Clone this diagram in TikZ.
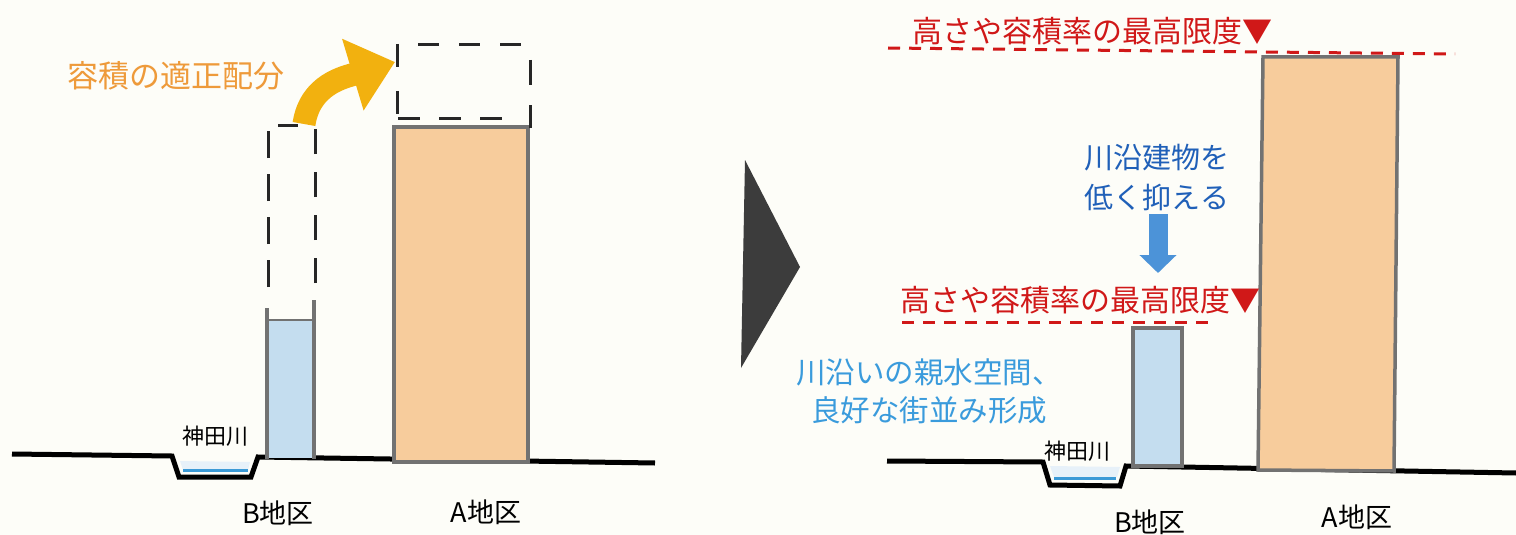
\documentclass[tikz,border=0pt]{standalone}
\usepackage{fontspec}
\newfontfamily\cjk{Noto Sans CJK JP}
\usetikzlibrary{arrows.meta}
\definecolor{bg}{HTML}{FDFDF8}
\definecolor{peach}{HTML}{F7CC9C}
\definecolor{paleblue}{HTML}{C4DDEF}
\definecolor{wallgray}{HTML}{727272}
\definecolor{orangetxt}{HTML}{EE9A3A}
\definecolor{orangearr}{HTML}{F2B10F}
\definecolor{limred}{HTML}{D01818}
\definecolor{darkblue}{HTML}{2060B8}
\definecolor{arrblue}{HTML}{4C93D8}
\definecolor{lightbluetxt}{HTML}{3A9BDC}
\definecolor{waterblue}{HTML}{3C9AD6}
\definecolor{tri}{HTML}{3C3C3C}
\begin{document}
\begin{tikzpicture}[x=1pt,y=-1pt,
  orangelbl/.style={inner sep=0pt, text=orangetxt, font=\cjk\fontsize{31}{31}\selectfont},
  redlbl/.style={inner sep=0pt, text=limred, font=\cjk\fontsize{30}{30}\selectfont},
  bluelbl/.style={inner sep=0pt, text=darkblue, align=center, font=\cjk\fontsize{29}{40}\selectfont},
  ltbluelbl/.style={inner sep=0pt, text=lightbluetxt, align=center, font=\cjk\fontsize{29.5}{38}\selectfont},
  riverlbl/.style={inner sep=0pt, text=black, font=\cjk\fontsize{22}{22}\selectfont},
  arealbl/.style={inner sep=0pt, text=black, font=\cjk\fontsize{27}{27}\selectfont},
  groundline/.style={draw=black, line width=5pt, line join=miter},
  waterline/.style={draw=waterblue, line width=3pt},
  wall/.style={draw=wallgray, line width=3.5pt},
  building/.style={draw=wallgray, line width=3.5pt, fill=peach},
  lowbuilding/.style={draw=wallgray, line width=3.5pt, fill=paleblue},
  ghost/.style={draw=black!85, line width=3pt},
  reddash/.style={draw=limred, line width=3pt, dash pattern=on 12pt off 9pt},
  orangearrow/.style={draw=orangearr, line width=23pt, -{Triangle[width=72pt,length=44pt]}},
  bluearrow/.style={draw=arrblue, line width=19pt, -{Triangle[width=36pt,length=18pt]}}
]
\useasboundingbox (0,0) rectangle (1516,535);
\fill[bg] (0,0) rectangle (1516,535);

%% ---------------- left panel ----------------
\fill[paleblue!40] (180,461) -- (250,462) -- (248,470) -- (183,470) -- cycle;
\draw[groundline] (12,454) -- (172,456) -- (179,477) -- (251,477) -- (258,457) -- (655,463);
\draw[waterline] (183,470) -- (248,470);

% B district building (low) with ghost outline above
\fill[paleblue] (267,320) rectangle (314,458);
\draw[wallgray, line width=1.5pt] (267,320) -- (314,320);
\draw[wall] (267,308) -- (267,459);
\draw[wall] (314,300) -- (314,459);
\draw[ghost, dash pattern=on 27pt off 16pt] (268,287) -- (268,130);
\draw[ghost, dash pattern=on 25pt off 18pt] (315,283) -- (315,129);
\draw[ghost] (278,125) -- (298,125);

% A district building with ghost extension
\draw[building] (394,127) rectangle (528,462);
\draw[ghost, dash pattern=on 23pt off 24pt] (397,44) -- (397,114);
\draw[ghost, dash pattern=on 25pt off 20pt] (530,60) -- (530,128);
\draw[ghost, dash pattern=on 21pt off 20pt] (418,45) -- (525,45);
\draw[ghost, dash pattern=on 22pt off 19pt] (398,118) -- (505,118);

% orange transfer arrow
\coordinate (os) at (304,124);
\coordinate (oe) at (395,62);
\draw[orangearrow] (os) .. controls (310,84) and (345,77) .. (oe);

% labels
\node[orangelbl] (vol) at (176,76) {容積の適正配分};
\node[riverlbl] (kanda1) at (215,436) {神田川};
\node[arealbl] (bL) at (278,513) {B地区};
\node[arealbl] (aL) at (486,512) {A地区};

%% ---------------- separator triangle ----------------
\fill[tri] (745,160) -- (800,267) -- (741,368) -- cycle;

%% ---------------- right panel ----------------
\fill[paleblue!40] (1050,466) -- (1120,467) -- (1117,477) -- (1054,477) -- cycle;
\draw[groundline] (887,461) -- (1043,462) -- (1050,485) -- (1120,486) -- (1126,466) -- (1516,473);
\draw[waterline] (1054,478) -- (1116,478);

\draw[lowbuilding] (1133,328) rectangle (1182,466);
\draw[building] (1263,57) -- (1398,57) -- (1394,471) -- (1258,470) -- cycle;

\draw[reddash] (888,48) -- (1455,54);
\draw[reddash] (902,322) -- (1213,322);

\node[redlbl] (lim1) at (1092,31) {高さや容積率の最高限度▼};
\node[redlbl] (lim2) at (1080,300) {高さや容積率の最高限度▼};
\node[bluelbl] (low) at (1157,177) {川沿建物を\\低く抑える};
\node[ltbluelbl] (water) at (929,391) {川沿いの親水空間、\\良好な街並み形成};
\node[riverlbl] (kanda2) at (1077,451) {神田川};
\node[arealbl] (bR) at (1150,522) {B地区};
\node[arealbl] (aR) at (1357,517) {A地区};

\coordinate (bs) at (1158,214);
\coordinate (be) at (1158,273);
\draw[bluearrow] (bs) -- (be);
\end{tikzpicture}
\end{document}
